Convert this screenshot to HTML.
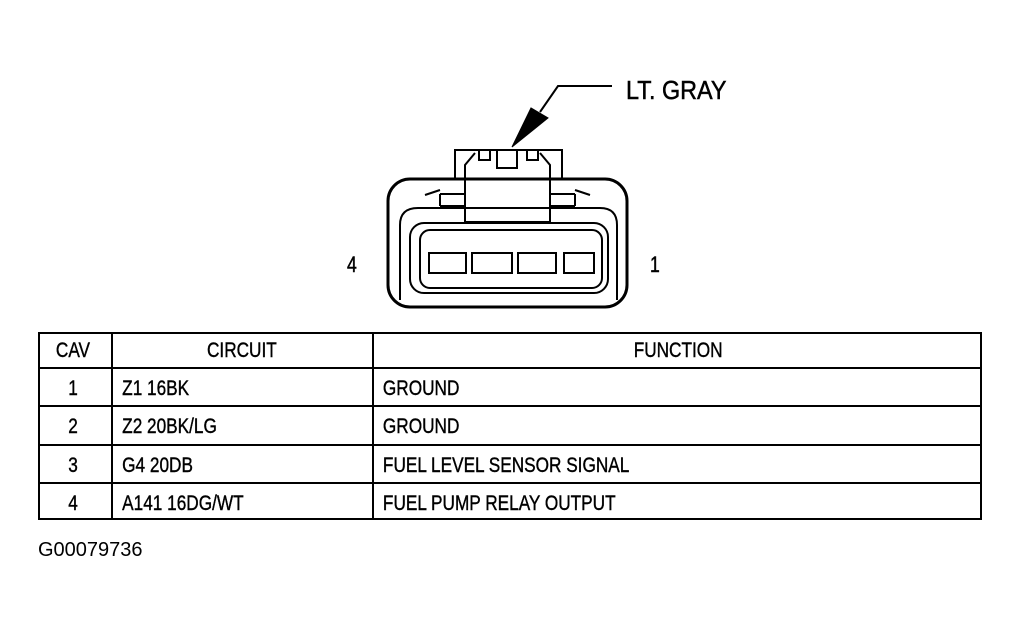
<!DOCTYPE html>
<html><head><meta charset="utf-8"><style>html,body{margin:0;padding:0;background:#fff;}svg{display:block}</style></head>
<body>
<svg width="1020" height="629" viewBox="0 0 1020 629" xmlns="http://www.w3.org/2000/svg" font-family="Liberation Sans, sans-serif" fill="none" stroke="#000">
<!-- connector -->
<rect x="388" y="179" width="239" height="128" rx="22" stroke-width="3"/>
<path d="M400 300 V225 Q400 208 418 208 H600 Q617 208 617 225 V300" stroke-width="2"/>
<rect x="410" y="223" width="198" height="70" rx="14" stroke-width="2"/>
<rect x="420" y="230" width="182" height="58" rx="10" stroke-width="2"/>
<rect x="429" y="253" width="37" height="20" stroke-width="2"/>
<rect x="472" y="253" width="40" height="20" stroke-width="2"/>
<rect x="518" y="253" width="38" height="20" stroke-width="2"/>
<rect x="564" y="253" width="30" height="20" stroke-width="2"/>
<!-- top tab -->
<path d="M455 178 V150 H562 V178" stroke-width="2"/>
<path d="M465 222 V165 L475 153 M550 222 V165 L540 153" stroke-width="2"/>
<path d="M465 222 H550" stroke-width="2"/>
<rect x="497" y="150" width="20" height="18" stroke-width="2"/>
<rect x="479" y="150" width="11" height="10" stroke-width="2"/>
<rect x="527" y="150" width="11" height="10" stroke-width="2"/>
<path d="M440 194 H465 M440 206 H465 M440 194 V206 M425 195 L440 190" stroke-width="2"/>
<path d="M550 194 H575 M550 206 H575 M575 194 V206 M590 195 L575 190" stroke-width="2"/>
<!-- leader -->
<path d="M512 147 L531 108 L548 118 Z" fill="#000" stroke-width="1"/>
<path d="M540 112 L558 86 H612" stroke-width="2"/>
<g fill="#000" stroke="#000" stroke-width="0.5" font-size="26">
<text x="626" y="99" transform="translate(626 0) scale(0.9 1) translate(-626 0)">LT. GRAY</text>
<text x="347" y="272" font-size="22" transform="translate(347 0) scale(0.8 1) translate(-347 0)">4</text>
<text x="650" y="272" font-size="22" transform="translate(650 0) scale(0.8 1) translate(-650 0)">1</text>
</g>
<!-- table -->
<rect x="39" y="333" width="942" height="186" stroke-width="2"/>
<path d="M39 368 H981 M39 406 H981 M39 445 H981 M39 483 H981 M112 333 V519 M373 333 V519" stroke-width="2"/>
<g fill="#000" stroke="#000" stroke-width="0.4" font-size="21">
<g transform="scale(0.82 1)">
<text x="89" y="357" text-anchor="middle">CAV</text>
<text x="295" y="357" text-anchor="middle">CIRCUIT</text>
<text x="827" y="357" text-anchor="middle">FUNCTION</text>
<text x="89" y="395" text-anchor="middle">1</text>
<text x="89" y="433" text-anchor="middle">2</text>
<text x="89" y="472" text-anchor="middle">3</text>
<text x="89" y="510" text-anchor="middle">4</text>
<text x="149" y="395">Z1 16BK</text>
<text x="149" y="433">Z2 20BK/LG</text>
<text x="149" y="472">G4 20DB</text>
<text x="149" y="510">A141 16DG/WT</text>
<text x="467" y="395">GROUND</text>
<text x="467" y="433">GROUND</text>
<text x="467" y="472">FUEL LEVEL SENSOR SIGNAL</text>
<text x="467" y="510">FUEL PUMP RELAY OUTPUT</text>
</g>
</g>
<text x="38" y="556" font-size="20" fill="#000" stroke="none">G00079736</text>
</svg>
</body></html>
